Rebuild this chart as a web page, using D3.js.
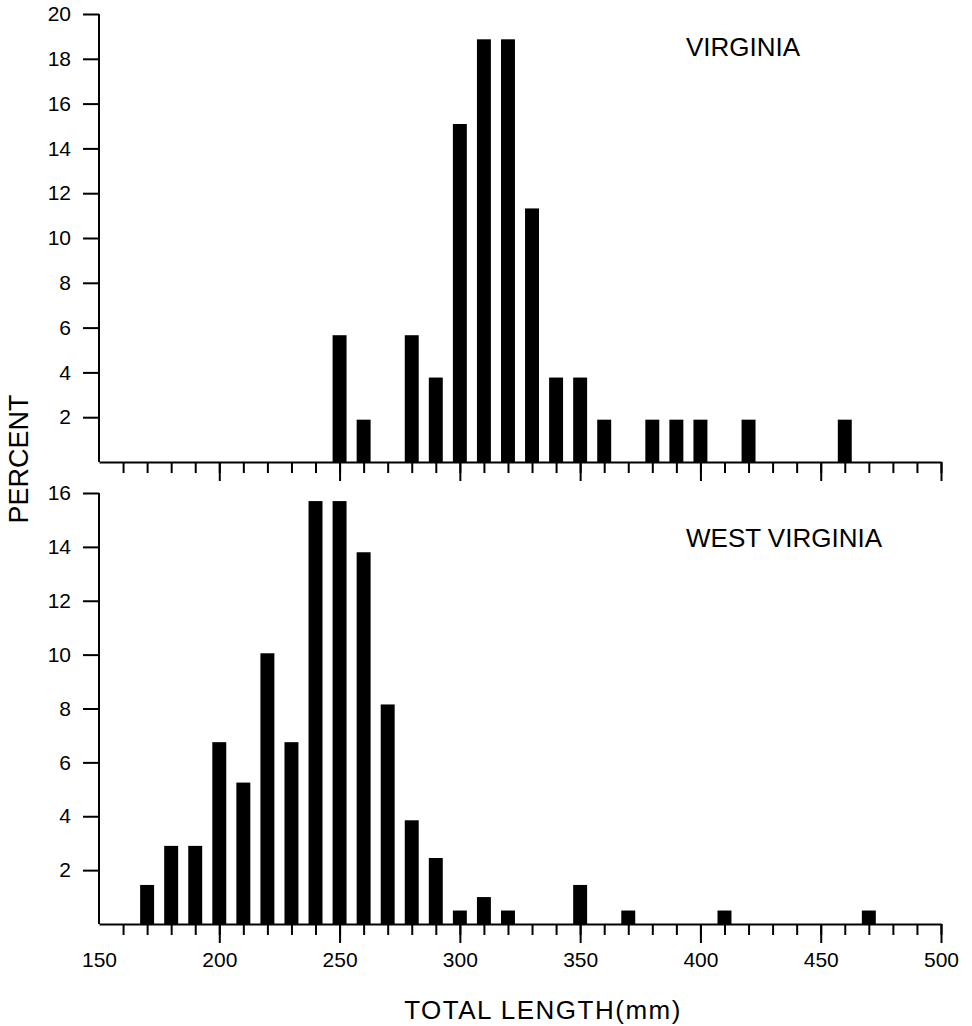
<!DOCTYPE html>
<html>
<head>
<meta charset="utf-8">
<script src="https://cdn.jsdelivr.net/npm/d3@7"></script>
<style>
  body { margin: 0; background: #fff; }
  text { font-family: "Liberation Sans", Arial, sans-serif; fill: #000; }
</style>
</head>
<body>
<div class="chart"></div>
<script>
var w = 972;
var h = 1026;

// total length classes (mm) and percent per class
var vaLengths = [250, 260, 280, 290, 300, 310, 320, 330, 340, 350, 360, 380, 390, 400, 420, 460];
var vaPercent = [5.66, 1.89, 5.66, 3.77, 15.09, 18.87, 18.87, 11.32, 3.77, 3.77, 1.89, 1.89, 1.89, 1.89, 1.89, 1.89];

var wvLengths = [170, 180, 190, 200, 210, 220, 230, 240, 250, 260, 270, 280, 290, 300, 310, 320, 350, 370, 410, 470];
var wvPercent = [1.45, 2.9, 2.9, 6.75, 5.25, 10.05, 6.75, 15.7, 15.7, 13.8, 8.15, 3.85, 2.45, 0.5, 1.0, 0.5, 1.45, 0.5, 0.5, 0.5];

var vaTicks = [2, 4, 6, 8, 10, 12, 14, 16, 18, 20];
var wvTicks = [2, 4, 6, 8, 10, 12, 14, 16];
var xMinorTicks = d3.range(160, 501, 10);
var xMajorTicks = [200, 250, 300, 350, 400, 450, 500];
var xLabels = [150, 200, 250, 300, 350, 400, 450, 500];

var barHalf = 2.9; // half bar width in mm

var xScale = d3.scaleLinear()
    .domain([150, 500])
    .range([99, 941]);

var panels = [
    { name: "VIRGINIA", lengths: vaLengths, percent: vaPercent, ticks: vaTicks,
      y: d3.scaleLinear().domain([0, 20]).range([462, 14]), labelY: 56, labels: false },
    { name: "WEST VIRGINIA", lengths: wvLengths, percent: wvPercent, ticks: wvTicks,
      y: d3.scaleLinear().domain([0, 16]).range([924, 493]), labelY: 547, labels: true }
];

var svg = d3.select(".chart")
    .append("svg")
    .attr("width", w)
    .attr("height", h);

panels.forEach(function(p) {
    var g = svg.append("g");
    var base = p.y(0);

    // bars
    g.selectAll("rect")
        .data(p.lengths)
        .enter()
        .append("rect")
        .attr("x", function(d) { return xScale(d - barHalf); })
        .attr("width", function(d) { return xScale(d + barHalf) - xScale(d - barHalf); })
        .attr("y", function(d, i) { return p.y(p.percent[i]); })
        .attr("height", function(d, i) { return base - p.y(p.percent[i]); })
        .attr("fill", "#000");

    // y axis
    var yAxis = g.append("g")
        .attr("transform", "translate(" + xScale(150) + ",0)")
        .call(d3.axisLeft(p.y)
            .tickValues(p.ticks)
            .tickSize(16)
            .tickSizeOuter(0)
            .tickPadding(12)
            .tickFormat(d3.format("d")));
    yAxis.select(".domain").attr("d", "M0," + p.y(p.ticks[p.ticks.length - 1]) + "V" + base);

    // x axis: minor and major ticks
    var xMinor = g.append("g")
        .attr("transform", "translate(0," + base + ")")
        .call(d3.axisBottom(xScale)
            .tickValues(xMinorTicks)
            .tickSize(11)
            .tickSizeOuter(0)
            .tickFormat(""));

    var xMajor = g.append("g")
        .attr("transform", "translate(0," + base + ")")
        .call(d3.axisBottom(xScale)
            .tickValues(p.labels ? xLabels : xMajorTicks)
            .tickSize(19)
            .tickSizeOuter(0)
            .tickPadding(9)
            .tickFormat(p.labels ? d3.format("d") : ""));
    xMajor.select(".domain").remove();
    if (p.labels) {
        xMajor.selectAll(".tick").filter(function(d) { return d === 150; }).select("line").remove();
    }

    g.selectAll(".domain, .tick line")
        .attr("stroke", "#000")
        .attr("stroke-width", 2);
    g.selectAll(".tick text")
        .style("font-size", "21px");

    g.append("text")
        .attr("x", 686)
        .attr("y", p.labelY)
        .style("font-size", "26px")
        .text(p.name);
});

svg.append("text")
    .attr("transform", "translate(28,459) rotate(-90)")
    .attr("text-anchor", "middle")
    .style("font-size", "27px")
    .text("PERCENT");

svg.append("text")
    .attr("x", 543)
    .attr("y", 1019)
    .attr("text-anchor", "middle")
    .style("font-size", "26px")
    .style("letter-spacing", "1.5px")
    .text("TOTAL LENGTH(mm)");
</script>
</body>
</html>
